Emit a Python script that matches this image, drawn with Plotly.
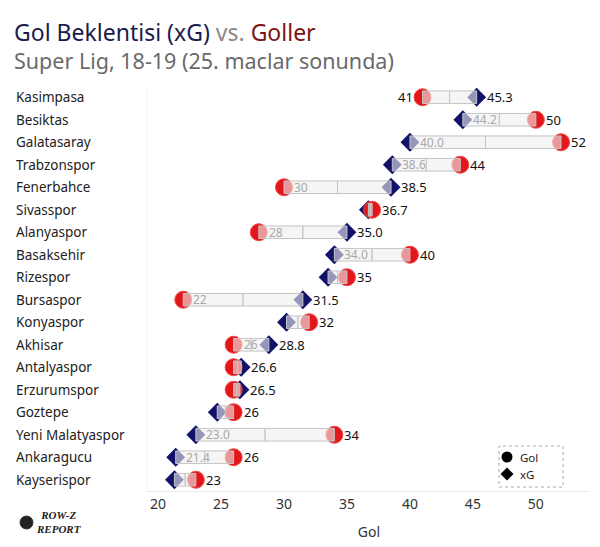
import plotly.graph_objects as go

teams = ["Kasimpasa", "Besiktas", "Galatasaray", "Trabzonspor", "Fenerbahce",
         "Sivasspor", "Alanyaspor", "Basaksehir", "Rizespor", "Bursaspor",
         "Konyaspor", "Akhisar", "Antalyaspor", "Erzurumspor", "Goztepe",
         "Yeni Malatyaspor", "Ankaragucu", "Kayserispor"]
goals = [41, 50, 52, 44, 30, 37, 28, 40, 35, 22, 32, 26, 26, 26, 26, 34, 26, 23]
xg = [45.3, 44.2, 40.0, 38.6, 38.5, 36.7, 35.0, 34.0, 33.5, 31.5, 30.2, 28.8,
      26.6, 26.5, 24.7, 23.0, 21.4, 21.3]
x_ticks = [20, 25, 30, 35, 40, 45, 50]
# how the left-end value label is shown: inside the bar, outside, or hidden
left_label_mode = ["out", "in", "in", "in", "in", "none", "in", "in", "none", "in",
                   "none", "in", "none", "none", "none", "in", "in", "none"]
# which series the right-hand label shows
right_label_src = ["xg", "gol", "gol", "gol", "xg", "xg", "xg", "gol", "gol", "xg",
                   "gol", "xg", "xg", "xg", "gol", "gol", "gol", "gol"]

RED = "#e3161b"
NAVY = "#12126b"
FONT = "Noto Sans"

L, R, T, B = 148, 10, 86, 56
W, H = 600, 547
pw = W - L - R
ph = H - T - B


def px(xp):
    return (xp - L) / pw


def py(yp):
    return (T + ph - yp) / ph


fig = go.Figure()

fig.add_trace(go.Scatter(x=xg, y=teams, mode="markers", showlegend=False,
                         marker=dict(symbol="diamond", size=14.5, color=NAVY,
                                     line=dict(width=0)), hoverinfo="skip"))
fig.add_trace(go.Scatter(x=goals, y=teams, mode="markers", showlegend=False,
                         marker=dict(symbol="circle", size=17, color=RED,
                                     line=dict(width=1, color="#f04a4a")), hoverinfo="skip"))

shapes = []
annotations = []
for i, (t, g, x) in enumerate(zip(teams, goals, xg)):
    lo, hi = min(g, x), max(g, x)
    mid = (g + x) / 2
    for a, b in ((lo, mid), (mid, hi)):
        shapes.append(dict(type="rect", xref="x", yref="y", x0=a, x1=b,
                           y0=i - 0.28, y1=i + 0.28, layer="above",
                           fillcolor="rgba(238,238,238,0.6)",
                           line=dict(color="#c4c4c4", width=1)))
    g_txt = f"{g:d}"
    x_txt = f"{x:.1f}"
    hi_txt = x_txt if right_label_src[i] == "xg" else g_txt
    lo_txt = g_txt if right_label_src[i] == "xg" else x_txt
    annotations.append(dict(x=hi, y=i, xref="x", yref="y", text=hi_txt,
                            showarrow=False, xanchor="left", xshift=8,
                            font=dict(family=FONT, size=13, color="#111")))
    mode = left_label_mode[i]
    if mode == "out":
        annotations.append(dict(x=lo, y=i, xref="x", yref="y", text=lo_txt,
                                showarrow=False, xanchor="right", xshift=-8,
                                font=dict(family=FONT, size=13, color="#111")))
    elif mode == "in":
        annotations.append(dict(x=lo, y=i, xref="x", yref="y", text=lo_txt,
                                showarrow=False, xanchor="left", xshift=8,
                                font=dict(family=FONT, size=12, color="#a8a8a8")))
    annotations.append(dict(x=px(14), y=i, xref="paper", yref="y", text=t,
                            showarrow=False, xanchor="left",
                            font=dict(family=FONT, size=13.5, color="#222")))

# title & subtitle
annotations.append(dict(
    x=px(12), y=py(32), xref="paper", yref="paper", showarrow=False,
    xanchor="left", yanchor="middle",
    text="<span style='color:#1b1b4d'>Gol Beklentisi (xG)</span> "
         "<span style='color:#8a8a8a'>vs.</span> "
         "<span style='color:#7a1515'>Goller</span>",
    font=dict(family=FONT, size=23)))
annotations.append(dict(
    x=px(12), y=py(61), xref="paper", yref="paper", showarrow=False,
    xanchor="left", yanchor="middle", text="Super Lig, 18-19 (25. maclar sonunda)",
    font=dict(family=FONT, size=21.5, color="#6a6a6a")))
# logo text
annotations.append(dict(
    x=px(34), y=py(522), xref="paper", yref="paper", showarrow=False,
    xanchor="left", yanchor="middle", text="<b><i>ROW-Z<br>REPORT</i></b>",
    font=dict(family="Liberation Sans Narrow", size=11, color="#222")))
shapes.append(dict(type="circle", xref="paper", yref="paper",
                   x0=px(20), x1=px(33), y0=py(529), y1=py(516),
                   line=dict(color="#333", width=1), fillcolor="#222"))
# manual legend
shapes.append(dict(type="circle", xref="paper", yref="paper",
                   x0=px(501.5), x1=px(512.5), y0=py(462.5), y1=py(451.5),
                   line=dict(width=0), fillcolor="black"))
shapes.append(dict(type="path", xref="paper", yref="paper",
                   path=f"M {px(500.5)},{py(474)} L {px(507)},{py(467.5)} "
                        f"L {px(513.5)},{py(474)} L {px(507)},{py(480.5)} Z",
                   line=dict(width=0), fillcolor="black"))
for lab, yy in (("Gol", 457), ("xG", 474)):
    annotations.append(dict(x=px(518), y=py(yy), xref="paper", yref="paper",
                            showarrow=False, xanchor="left", yanchor="middle",
                            text=lab, font=dict(family=FONT, size=11.5, color="#222")))
shapes.append(dict(type="rect", xref="paper", yref="paper",
                   x0=px(499), x1=px(563), y0=py(487), y1=py(446),
                   line=dict(color="#aaa", width=1, dash="dot")))

fig.update_layout(
    width=W, height=H, margin=dict(l=L, r=R, t=T, b=B, autoexpand=False),
    paper_bgcolor="white", plot_bgcolor="white",
    font=dict(family=FONT),
    shapes=shapes, annotations=annotations,
    showlegend=False,
    xaxis=dict(range=[19.2, 54.3], tickvals=x_ticks, showgrid=False, zeroline=False,
               showline=True, linecolor="#ececec", linewidth=1, ticks="",
               automargin=False,
               tickfont=dict(family=FONT, size=14, color="#333"),
               title=dict(text="Gol", font=dict(family=FONT, size=14, color="#333"),
                          standoff=15)),
    yaxis=dict(type="category", categoryorder="array", categoryarray=teams,
               range=[len(teams) - 0.5, -0.5], autorange=False,
               showticklabels=False, showgrid=False, automargin=False,
               zeroline=False, showline=True, linecolor="#f4f4f4", ticks=""),
)

fig.write_html("out.html", config={"displayModeBar": False},
               post_script="document.body.style.margin='0';")
